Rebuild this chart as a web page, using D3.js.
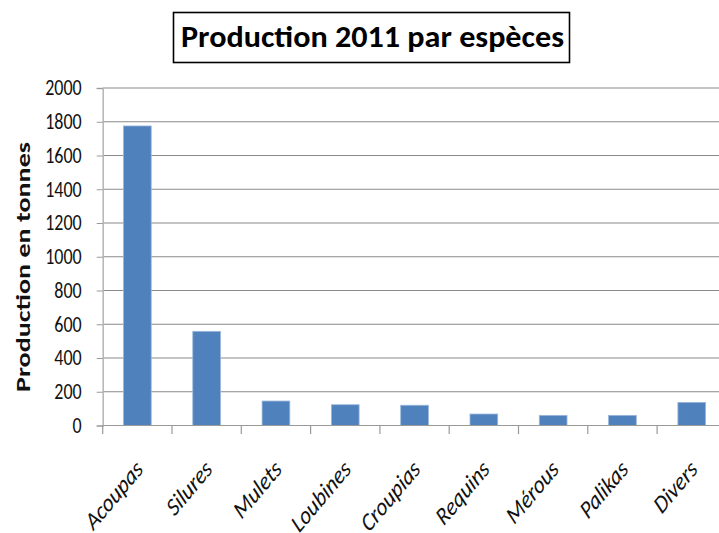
<!DOCTYPE html>
<html><head><meta charset="utf-8">
<script src="https://cdn.jsdelivr.net/npm/d3@7"></script>
<style>
html,body{margin:0;padding:0;background:#fff;}
svg{display:block;}
</style>
</head><body>
<svg id="chart" width="719" height="533"></svg>
<script>
const categories = ["Acoupas","Silures","Mulets","Loubines","Croupias","Requins","Mérous","Palikas","Divers"];
const values = [1775, 558, 145, 123, 120, 68, 60, 60, 137];
const yTicks = [0,200,400,600,800,1000,1200,1400,1600,1800,2000];
const titleText = "Production 2011 par espèces";
const yTitle = "Production en tonnes";

const W = 719, H = 533;
const stretch = 1.19;
const svg = d3.select("#chart");
const font = "Calibri, Carlito, Lato, sans-serif";

const x = d3.scaleBand().domain(categories).range([102.7, 726.4]).paddingInner(0.6).paddingOuter(0.3);
const y = d3.scaleLinear().domain([0, 2000]).range([425.5, 88]);

// gridlines
svg.append("g").selectAll("line").data(yTicks.filter(d => d > 0)).join("line")
  .attr("x1", 102.7).attr("x2", W)
  .attr("y1", d => y(d)).attr("y2", d => y(d))
  .attr("stroke", "#8a8a8a").attr("stroke-width", 1.2);

// bars
svg.append("g").selectAll("rect").data(categories).join("rect")
  .attr("x", d => x(d)).attr("width", x.bandwidth())
  .attr("y", (d, i) => y(values[i])).attr("height", (d, i) => y(0) - y(values[i]))
  .attr("fill", "#4F81BD").attr("stroke", "#9bb6da").attr("stroke-width", 0.8);

// y axis
const yAxis = svg.append("g").attr("transform", "translate(102.7,0)")
  .call(d3.axisLeft(y).tickValues(yTicks).tickSize(6).tickPadding(15).tickFormat(d3.format("d")));
yAxis.select(".domain").attr("stroke", "#b5b5b5").attr("stroke-width", 1.5);
yAxis.selectAll(".tick line").attr("stroke", "#9a9a9a");
yAxis.selectAll(".tick text")
  .attr("font-family", font).attr("font-size", 18).attr("fill", "#111")
  .attr("transform", `scale(1,${stretch + 0.02})`);

// x axis line and ticks (category boundaries)
const step = x.step();
const gap = step - x.bandwidth();
const bounds = categories.map(c => x(c) - gap / 2).concat([x(categories[categories.length - 1]) + x.bandwidth() + gap / 2]);
svg.append("line").attr("x1", 102.7).attr("x2", W).attr("y1", y(0)).attr("y2", y(0))
  .attr("stroke", "#9a9a9a").attr("stroke-width", 1.2);
svg.append("g").selectAll("line").data(bounds).join("line")
  .attr("x1", d => d).attr("x2", d => d).attr("y1", y(0)).attr("y2", y(0) + 8.5)
  .attr("stroke", "#9a9a9a").attr("stroke-width", 1.2);

// x labels
svg.append("g").selectAll("g").data(categories).join("g")
  .attr("transform", d => `translate(${x(d) + x.bandwidth() / 2 + 7},${y(0) + 45}) scale(1,${stretch}) rotate(-45)`)
  .append("text")
  .attr("text-anchor", "end")
  .attr("font-family", font).attr("font-style", "italic").attr("font-size", 21)
  .attr("fill", "#111")
  .text(d => d);

// y title
svg.append("text")
  .attr("transform", "translate(30,267) rotate(-90)")
  .attr("text-anchor", "middle")
  .attr("font-family", font).attr("font-weight", "bold").attr("font-size", 20)
  .attr("textLength", 250).attr("lengthAdjust", "spacingAndGlyphs")
  .attr("fill", "#111")
  .text(yTitle);

// title box
svg.append("rect").attr("x", 173.5).attr("y", 12.5).attr("width", 396).attr("height", 50)
  .attr("fill", "#fff").attr("stroke", "#000").attr("stroke-width", 1.6);
svg.append("text")
  .attr("x", 372.5).attr("y", 46.7)
  .attr("text-anchor", "middle")
  .attr("font-family", font).attr("font-weight", "bold").attr("font-size", 30)
  .attr("textLength", 383).attr("lengthAdjust", "spacingAndGlyphs")
  .attr("fill", "#000")
  .text(titleText);
</script>
</body></html>
